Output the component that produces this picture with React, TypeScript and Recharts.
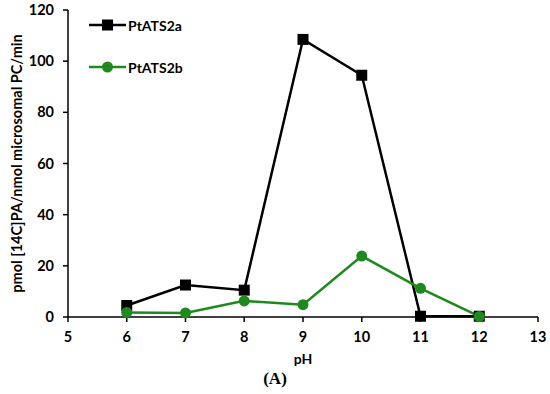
import React from 'react';
import { LineChart, Line, XAxis, YAxis } from 'recharts';

const phValues = [6, 7, 8, 9, 10, 11, 12];
const ptats2a = [4.5, 12.5, 10.5, 108.5, 94.5, 0.3, 0.3];
const ptats2b = [1.8, 1.6, 6.3, 4.8, 23.8, 11.2, 0.2];
const xTicks = [5, 6, 7, 8, 9, 10, 11, 12, 13];
const yTicks = [0, 20, 40, 60, 80, 100, 120];

const data = phValues.map((ph, i) => ({ ph, a: ptats2a[i], b: ptats2b[i] }));

const FONT = 'Lato, "Open Sans", sans-serif';
const GREEN = '#1e8a1e';

const SquareDot = (props: any) => {
  const { cx, cy, index } = props;
  return <rect key={`sq-${index}`} x={cx - 5.5} y={cy - 5.5} width={11} height={11} fill="#000" />;
};

const legendItems = [
  { name: 'PtATS2a', color: '#000', shape: 'square' },
  { name: 'PtATS2b', color: GREEN, shape: 'circle' },
];

function MyLegend() {
  return (
    <div style={{ position: 'absolute', left: 89, top: 15, fontFamily: FONT, fontWeight: 700, fontSize: 14 }}>
      {legendItems.map((it) => (
        <div key={it.name} style={{ display: 'flex', alignItems: 'center', height: 20, marginBottom: 22 }}>
          <svg width={37} height={14}>
            <line x1={0} y1={7} x2={37} y2={7} stroke={it.color} strokeWidth={2.5} />
            {it.shape === 'square' ? (
              <rect x={13} y={1.5} width={11} height={11} fill={it.color} />
            ) : (
              <circle cx={18.5} cy={7} r={5.5} fill={it.color} />
            )}
          </svg>
          <span style={{ marginLeft: 2, color: '#000' }}>{it.name}</span>
        </div>
      ))}
    </div>
  );
}

const YLabel = (props: any) => {
  const { viewBox } = props;
  const cy = viewBox.y + viewBox.height / 2;
  return (
    <text
      x={16}
      y={cy}
      transform={`rotate(-90, 16, ${cy})`}
      textAnchor="middle"
      dominantBaseline="central"
      style={{ fontFamily: FONT, fontWeight: 700, fontSize: 14.5, fill: '#000' }}
    >
      pmol [14C]PA/nmol microsomal PC/min
    </text>
  );
};

export default function App() {
  const tickStyle = { fontFamily: FONT, fontWeight: 700, fontSize: 14.5, fill: '#000' };
  return (
    <div style={{ position: 'absolute', left: 0, top: 0, width: 550, height: 394, background: '#fff', overflow: 'hidden' }}>
      <LineChart
        width={550}
        height={368}
        data={data}
        margin={{ top: 10, right: 12, bottom: 0, left: 0 }}
        style={{ overflow: 'visible' }}
      >
        <XAxis
          dataKey="ph"
          type="number"
          domain={[5, 13]}
          ticks={xTicks}
          tick={tickStyle}
          tickLine={{ stroke: '#000', strokeWidth: 1.5 }}
          axisLine={{ stroke: '#000', strokeWidth: 1.5 }}
          tickSize={5}
          tickMargin={10}
          height={51}
          interval={0}
          label={{ value: 'pH', position: 'insideBottom', offset: 4, style: { ...tickStyle, fontSize: 14 } }}
        />
        <YAxis
          type="number"
          domain={[0, 120]}
          ticks={yTicks}
          tick={tickStyle}
          tickLine={{ stroke: '#000', strokeWidth: 1.5 }}
          axisLine={{ stroke: '#000', strokeWidth: 1.5 }}
          tickSize={5}
          tickMargin={9}
          width={68}
          interval={0}
          label={<YLabel />}
        />
        <Line
          dataKey="a"
          stroke="#000"
          strokeWidth={2.5}
          dot={<SquareDot />}
          isAnimationActive={false}
        />
        <Line
          dataKey="b"
          stroke={GREEN}
          strokeWidth={2.5}
          dot={{ r: 5.5, fill: GREEN, stroke: GREEN, strokeWidth: 0 }}
          isAnimationActive={false}
        />
      </LineChart>
      <MyLegend />
      <div
        style={{
          textAlign: 'center',
          width: 550,
          fontFamily: '"Liberation Serif", serif',
          fontWeight: 700,
          fontSize: 17,
          marginTop: 1,
        }}
      >
        (A)
      </div>
    </div>
  );
}
